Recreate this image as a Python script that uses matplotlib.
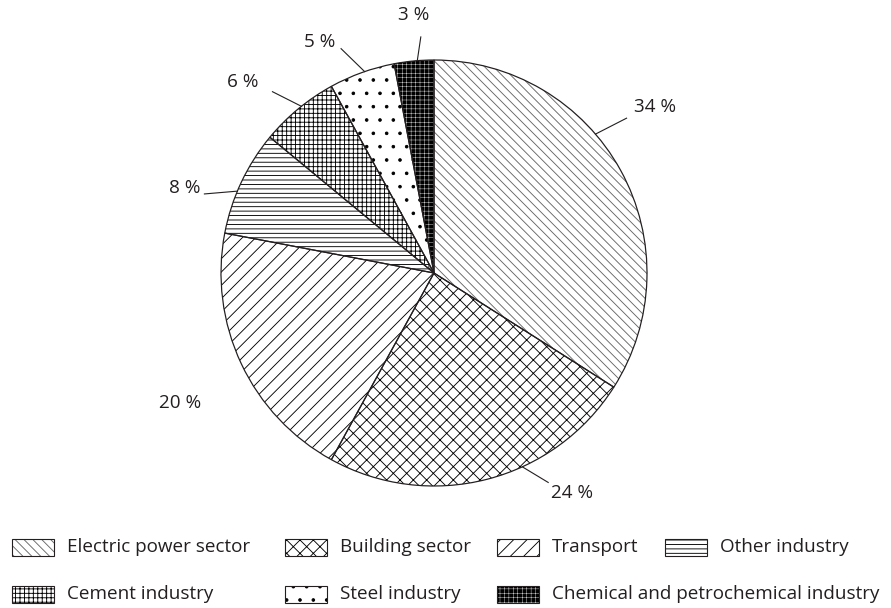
import numpy as np
import matplotlib.pyplot as plt
from matplotlib.patches import Rectangle

plt.rcParams['font.family'] = ['Open Sans', 'DejaVu Sans']
plt.rcParams['hatch.linewidth'] = 0.8

sectors = ['Electric power sector', 'Building sector', 'Transport', 'Other industry',
           'Cement industry', 'Steel industry', 'Chemical and petrochemical industry']
shares = [34, 24, 20, 8, 6, 5, 3]

hatches = ['\\\\\\', 'xx', '//', '---', '+++', '.', '+++']
hatch_colors = ['#666666', 'black', 'black', 'black', 'black', 'black', 'white']
hatch_widths = [0.8, 0.8, 0.8, 0.8, 0.8, 0.8, 0.35]
face_colors = ['white'] * 6 + ['black']

# leader layout per slice: edge angle, end angle, end radius, text angle, text radius
label_layout = [
    (40.7, 38.8, 1.16, 36.9, 1.30),
    (-65.5, -61.4, 1.12, -57.9, 1.22),
    (None, None, None, 207.0, 1.34),
    (157.4, 161.0, 1.14, 161.1, 1.235),
    (128.5, 131.7, 1.14, 135.1, 1.27),
    (109.0, 112.5, 1.14, 116.3, 1.21),
    (94.5, 93.2, 1.11, 94.4, 1.215),
]

W, H = 891, 608
DPI = 80
cx, cy, R = 434, 273, 213  # pie centre / radius in pixels
text_color = '#231f20'


def set_hw(patch, lw):
    # per-patch hatch width where matplotlib supports it
    if hasattr(patch, 'set_hatch_linewidth'):
        patch.set_hatch_linewidth(lw)


fig = plt.figure(figsize=(W / DPI, H / DPI), dpi=DPI)
ax = fig.add_axes([0, 0, 1, 1])

wedges, _ = ax.pie(shares, startangle=90, counterclock=False, colors=face_colors,
                   wedgeprops=dict(linewidth=0))
for w, h, hc, hw in zip(wedges, hatches, hatch_colors, hatch_widths):
    w.set_hatch(h)
    w.set_edgecolor(hc)
    set_hw(w, hw)
ax.pie(shares, startangle=90, counterclock=False,
       wedgeprops=dict(linewidth=1.1, edgecolor=text_color, fill=False))

for share, (a0, a1, r1, at, rt) in zip(shares, label_layout):
    if a0 is not None:
        t0, t1 = np.radians(a0), np.radians(a1)
        ax.plot([np.cos(t0), r1 * np.cos(t1)], [np.sin(t0), r1 * np.sin(t1)],
                color=text_color, lw=1.0)
    tt = np.radians(at)
    ax.text(rt * np.cos(tt), rt * np.sin(tt), f'{share} %', ha='center', va='center',
            fontsize=17, color=text_color)

ax.set_xlim(-cx / R, (W - cx) / R)
ax.set_ylim(-(H - cy) / R, cy / R)
ax.set_aspect('auto')
ax.axis('off')

# legend, drawn by hand so the columns line up as in the original
col_x = [12, 285, 497, 665]
row_y = [547, 594]
box_w, box_h = 42, 17
for i, name in enumerate(sectors):
    row, col = (0, i) if i < 4 else (1, i - 4)
    x0 = col_x[col] / W
    y0 = 1 - (row_y[row] + box_h / 2) / H
    box = Rectangle((x0, y0), box_w / W, box_h / H, transform=fig.transFigure,
                    facecolor=face_colors[i], edgecolor=hatch_colors[i],
                    hatch=hatches[i], lw=0)
    set_hw(box, hatch_widths[i])
    fig.add_artist(box)
    fig.add_artist(Rectangle((x0, y0), box_w / W, box_h / H, transform=fig.transFigure,
                             fill=False, edgecolor=text_color, lw=1.0))
    fig.text((col_x[col] + 55) / W, 1 - row_y[row] / H, name, va='center',
             fontsize=17, color=text_color)

fig.savefig('out.png', dpi=DPI)
